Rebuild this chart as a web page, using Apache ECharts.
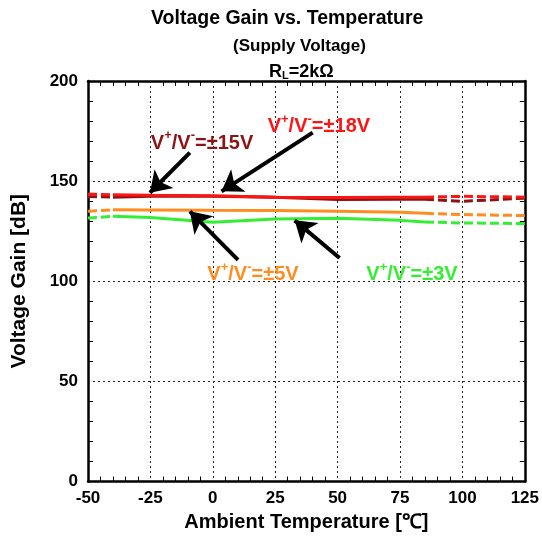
<!DOCTYPE html>
<html><head><meta charset="utf-8">
<script src="https://cdn.jsdelivr.net/npm/echarts@6/dist/echarts.min.js"></script>
<style>html,body{margin:0;padding:0;background:#fff}#c{width:542px;height:540px}</style>
</head><body><div id="c"></div>
<script>
// Data
var tempsSolid = [-40, -25, 0, 25, 50, 75, 85];
var tempsLeft = [-50, -40];
var tempsRight = [85, 100, 125];
var gain18 = [143.2, 143.0, 142.7, 142.0, 141.8, 142.0, 142.0];
var gain18L = [143.5, 143.2];
var gain18R = [142.0, 142.4, 142.0];
var gain15 = [142.0, 142.5, 142.5, 142.0, 140.8, 141.0, 141.0];
var gain15L = [142.3, 142.0];
var gain15R = [141.0, 139.9, 141.5];
var gain5 = [135.7, 135.6, 135.4, 135.3, 135.0, 134.4, 133.9];
var gain5L = [134.9, 135.7];
var gain5R = [133.9, 133.3, 132.8];
var gain3 = [132.4, 131.8, 129.5, 131.1, 131.5, 130.4, 129.6];
var gain3L = [131.6, 132.4];
var gain3R = [129.6, 129.1, 128.8];
var xTicks = [-50, -25, 0, 25, 50, 75, 100, 125];
var yTicks = [0, 50, 100, 150, 200];
var labels = ['±18V', '±15V', '±5V', '±3V'];
// annotation: [labelX, labelY, arrowStartX, arrowStartY, arrowTipX, arrowTipY]
var ann18 = [42.5, 178.3, 40, 174.2, 3.5, 144.9];
var ann15 = [-4.3, 169.9, -9.2, 164.2, -25.2, 144.2];
var ann5 = [16.1, 104.3, 10.1, 110.7, -9.2, 134.9];
var ann3 = [79.8, 104.3, 50.8, 111.6, 32.8, 130.4];

var colors = {v18: '#ff1414', v15: '#8c1414', v5: '#ff8c1e', v3: '#33ee33'};

function pairs(xs, ys) { return xs.map(function (x, i) { return [x, ys[i]]; }); }
function dashedData(l, r) { return pairs(tempsLeft, l).concat([[-30, '-']]).concat(pairs(tempsRight, r)); }

function lineSeries(name, data, color, dashed, z) {
  return {
    name: name, type: 'line', data: data, symbol: 'none', z: z,
    connectNulls: false, silent: true,
    lineStyle: {color: color, width: 3, type: dashed ? [9, 4] : 'solid'}
  };
}

var series = [];
var groups = [
  ['v3', gain3, gain3L, gain3R, 2],
  ['v5', gain5, gain5L, gain5R, 3],
  ['v15', gain15, gain15L, gain15R, 4],
  ['v18', gain18, gain18L, gain18R, 5]
];
groups.forEach(function (g) {
  series.push(lineSeries(g[0], pairs(tempsSolid, g[1]), colors[g[0]], false, g[4]));
  series.push(lineSeries(g[0] + 'd', dashedData(g[2], g[3]), colors[g[0]], true, g[4]));
});

function labelText(v) { return '{a|V}{s|+}{a|/V}{s|-}{a|=' + v + '}'; }
var anns = [[ann18, labels[0], colors.v18], [ann15, labels[1], colors.v15], [ann5, labels[2], colors.v5], [ann3, labels[3], colors.v3]];
var font = 'Liberation Sans, Arial, sans-serif';

series.push({
  type: 'scatter', data: [], silent: true, z: 10,
  markLine: {
    silent: true, animation: false,
    symbol: ['none', 'arrow'], symbolSize: 20,
    label: {show: false},
    lineStyle: {color: '#000', width: 4, type: 'solid'},
    data: anns.map(function (a) { return [{coord: [a[0][2], a[0][3]]}, {coord: [a[0][4], a[0][5]]}]; })
  },
  markPoint: {
    silent: true, animation: false, symbol: 'circle', symbolSize: 1,
    itemStyle: {color: 'rgba(0,0,0,0)'},
    data: anns.map(function (a) {
      return {
        coord: [a[0][0], a[0][1]],
        label: {
          show: true, position: 'inside', formatter: labelText(a[1]),
          rich: {
            a: {fontFamily: font, fontWeight: 'bold', fontSize: 20, color: a[2], lineHeight: 24, verticalAlign: 'bottom'},
            s: {fontFamily: font, fontWeight: 'bold', fontSize: 13, color: a[2], lineHeight: 24, verticalAlign: 'top', padding: [0, 0, 9, 0]}
          }
        }
      };
    })
  }
});

var gridLine = {show: true, lineStyle: {color: '#222', width: 1, type: [2, 3]}};
var minor = {show: true, splitNumber: 5, length: 5, lineStyle: {color: '#000', width: 1}};
var option = {
  animation: false,
  backgroundColor: '#fff',
  title: [
    {text: 'Voltage Gain vs. Temperature', left: 146, top: 4, textStyle: {fontFamily: font, fontWeight: 'bold', fontSize: 19.5, color: '#000'}},
    {text: '(Supply Voltage)', left: 228, top: 33, textStyle: {fontFamily: font, fontWeight: 'bold', fontSize: 17, color: '#000'}},
    {text: '{r|R}{l|L}{r|=2kΩ}', left: 264, top: 56, textStyle: {rich: {
      r: {fontFamily: font, fontWeight: 'bold', fontSize: 18, color: '#000', lineHeight: 20, verticalAlign: 'bottom'},
      l: {fontFamily: font, fontWeight: 'bold', fontSize: 11, color: '#000', lineHeight: 20, verticalAlign: 'bottom'}
    }}}
  ],
  grid: {left: 88, right: 17, top: 81, bottom: 58.5, show: false},
  xAxis: [{
    type: 'value', min: xTicks[0], max: xTicks[xTicks.length - 1], interval: 25,
    axisLine: {show: true, onZero: false, lineStyle: {color: '#000', width: 2.5}},
    axisTick: {show: false, inside: true},
    minorTick: minor,
    axisLabel: {fontFamily: font, fontWeight: 'bold', fontSize: 17, color: '#000', margin: 8},
    splitLine: gridLine,
    name: 'Ambient Temperature [℃]', nameLocation: 'middle', nameGap: 31,
    nameTextStyle: {fontFamily: font, fontWeight: 'bold', fontSize: 20, color: '#000'}
  }, {
    type: 'value', position: 'top', min: xTicks[0], max: xTicks[xTicks.length - 1], interval: 25,
    axisLine: {show: true, onZero: false, lineStyle: {color: '#000', width: 2.5}},
    axisTick: {show: false, inside: true}, axisLabel: {show: false}, splitLine: {show: false},
    minorTick: minor
  }],
  yAxis: [{
    type: 'value', min: yTicks[0], max: yTicks[yTicks.length - 1], interval: 50,
    axisLine: {show: true, onZero: false, lineStyle: {color: '#000', width: 2.5}},
    axisTick: {show: false, inside: true},
    minorTick: minor,
    axisLabel: {fontFamily: font, fontWeight: 'bold', fontSize: 17, color: '#000', margin: 10},
    splitLine: gridLine,
    name: 'Voltage Gain [dB]', nameLocation: 'middle', nameGap: 58,
    nameTextStyle: {fontFamily: font, fontWeight: 'bold', fontSize: 21, color: '#000'}
  }, {
    type: 'value', position: 'right', min: yTicks[0], max: yTicks[yTicks.length - 1], interval: 50,
    axisLine: {show: true, onZero: false, lineStyle: {color: '#000', width: 2.5}},
    axisTick: {show: false, inside: true}, axisLabel: {show: false}, splitLine: {show: false},
    minorTick: minor
  }],
  series: series
};
var chart = echarts.init(document.getElementById('c'), null, {renderer: 'canvas'});
chart.setOption(option);
</script></body></html>
